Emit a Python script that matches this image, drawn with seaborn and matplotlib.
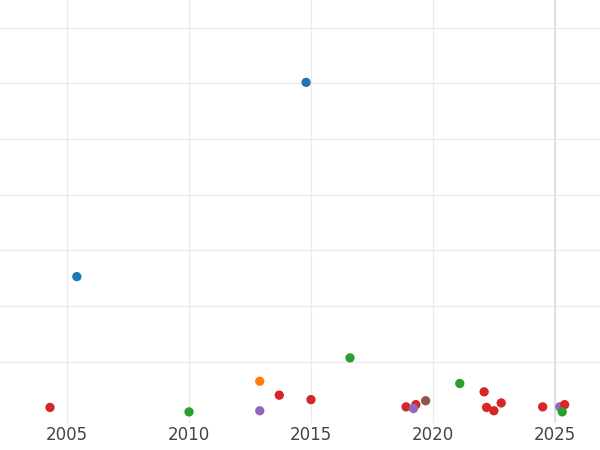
import matplotlib
matplotlib.use("Agg")
import matplotlib.pyplot as plt
import seaborn as sns
import pandas as pd

years = [2014.8, 2005.4, 2016.6, 2012.9, 2013.7, 2015.0, 2004.3, 2010.0, 2012.9, 2018.9, 2019.3,
         2019.2, 2019.7, 2021.1, 2022.1, 2022.2, 2022.5, 2022.8, 2024.5, 2025.2, 2025.4, 2025.3]
values = [6.02, 2.53, 1.07, 0.65, 0.40, 0.32, 0.18, 0.10, 0.12, 0.19, 0.23,
          0.16, 0.30, 0.61, 0.46, 0.18, 0.12, 0.26, 0.19, 0.19, 0.23, 0.10]
groups = ["A", "A", "C", "B", "D", "D", "D", "C", "E", "D", "D",
          "E", "F", "C", "D", "D", "D", "D", "D", "E", "D", "C"]
palette = {"A": "#1f77b4", "B": "#ff7f0e", "C": "#2ca02c", "D": "#d62728", "E": "#9467bd", "F": "#8c564b"}

df = pd.DataFrame({"year": years, "value": values, "group": groups})
sns.set_style("white")
fig = plt.figure(figsize=(6, 4.5), dpi=100)
ax = fig.add_axes([0, 0.06, 1, 0.94])
ax.set_xlim(2002.25, 2026.85)
ax.set_ylim(-0.1, 7.5)
ax.set_xticks([2005, 2010, 2015, 2020, 2025])
ax.set_yticks([1, 2, 3, 4, 5, 6, 7])
ax.set_yticklabels([])
ax.grid(True, color="#ebebeb", linewidth=1)
ax.axvline(2025, color="#e0e0e0", linewidth=1.5, zorder=1)
sns.scatterplot(data=df, x="year", y="value", hue="group", palette=palette, s=45,
                edgecolor="none", legend=False, ax=ax, zorder=3)
for s in ax.spines.values():
    s.set_visible(False)
ax.set_xlabel("")
ax.set_ylabel("")
ax.tick_params(axis="x", length=0, labelsize=12, labelcolor="#444444", pad=2)
ax.tick_params(axis="y", length=0)
fig.savefig("out.png")
